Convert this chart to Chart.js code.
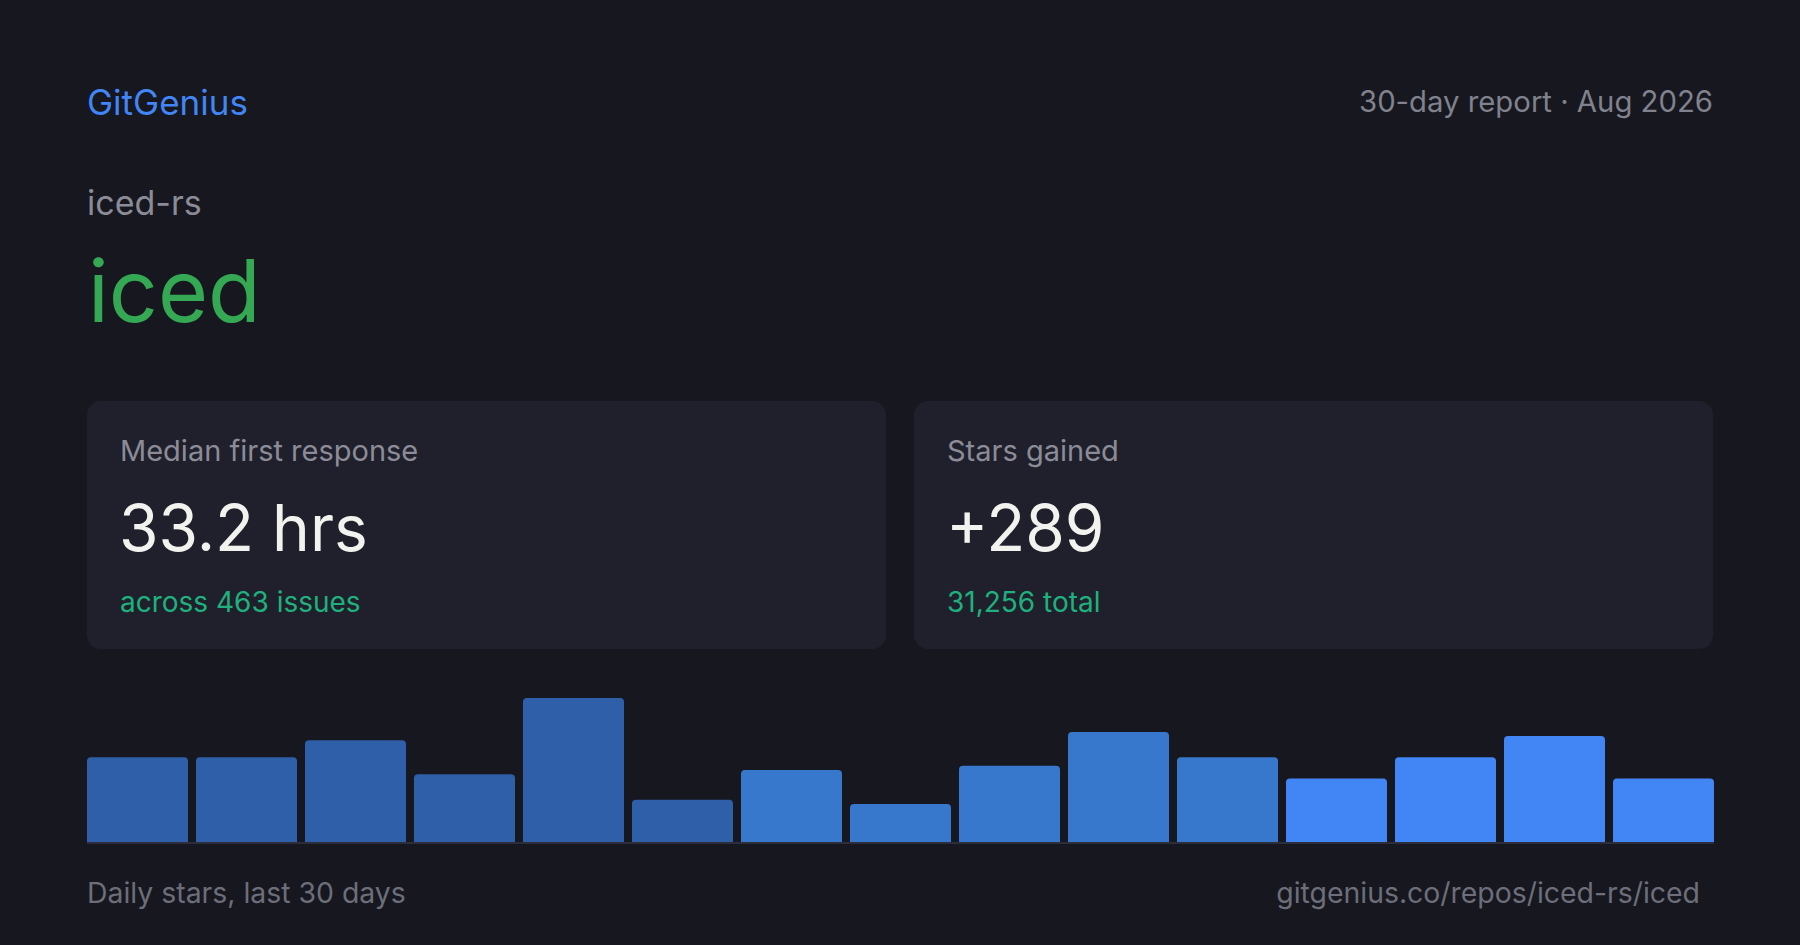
<!DOCTYPE html>
<html>
<head>
<meta charset="utf-8">
<script src="https://cdn.jsdelivr.net/npm/chart.js@4"></script>
<style>
  html, body { margin: 0; padding: 0; }
  body {
    width: 1800px; height: 945px; overflow: hidden; position: relative;
    background: #16171f; font-family: Inter, "Noto Sans", sans-serif;
  }
  .t { position: absolute; line-height: 1; white-space: nowrap; }
  .brand { left: 87px; top: 85px; font-size: 35px; color: #4285f4; }
  .period { right: 87px; top: 87px; font-size: 29.3px; color: #80828d; }
  .owner { left: 87px; top: 186px; font-size: 34px; color: #8b8c97; }
  .repo { left: 88px; top: 248px; font-size: 86px; color: #34a853; }
  .card {
    position: absolute; top: 401px; width: 799px; height: 248px;
    background: #1f202b; border-radius: 14px;
  }
  .card .label { left: 33px; top: 35px; font-size: 29px; color: #8b8c97; }
  .card .value { left: 32px; top: 95px; font-size: 64px; color: #f2f2ee; }
  .card .sub { left: 33px; top: 187px; font-size: 28px; color: #1fb07e; }
  #wrap { position: absolute; left: 83px; top: 698px; width: 1635px; height: 146px; }
  .foot { top: 879px; font-size: 28.4px; color: #6c6e7a; }
</style>
</head>
<body>
<div class="t brand">GitGenius</div>
<div class="t period">30-day report · Aug 2026</div>
<div class="t owner">iced-rs</div>
<div class="t repo">iced</div>

<div class="card" style="left:87px">
  <div class="t label">Median first response</div>
  <div class="t value">33.2 hrs</div>
  <div class="t sub">across 463 issues</div>
</div>
<div class="card" style="left:914px">
  <div class="t label">Stars gained</div>
  <div class="t value">+289</div>
  <div class="t sub">31,256 total</div>
</div>

<div id="wrap"><canvas id="bars"></canvas></div>

<div class="t foot" style="left:87px">Daily stars, last 30 days</div>
<div class="t foot" style="right:100px">gitgenius.co/repos/iced-rs/iced</div>

<script>
// two days per bar, 30 days total
const days = ["1–2", "3–4", "5–6", "7–8", "9–10", "11–12", "13–14", "15–16",
  "17–18", "19–20", "21–22", "23–24", "25–26", "27–28", "29–30"];
const stars = [20, 20, 24, 16, 34, 10, 17, 9, 18, 26, 20, 15, 20, 25, 15];

// older bars darker, recent ones brighter
function toneFor(i) {
  if (i < 6) return "#2f5fa9";
  if (i < 11) return "#3778cc";
  return "#4285f4";
}

// thin line under the bars, from first bar edge to last bar edge
const baseline = {
  id: "baseline",
  afterDatasetsDraw(chart) {
    const meta = chart.getDatasetMeta(0).data;
    const first = meta[0], last = meta[meta.length - 1];
    const ctx = chart.ctx;
    const y = chart.chartArea.bottom + 1;
    ctx.save();
    ctx.strokeStyle = "#2c2d3a";
    ctx.lineWidth = 2;
    ctx.beginPath();
    ctx.moveTo(first.x - first.width / 2, y);
    ctx.lineTo(last.x + last.width / 2, y);
    ctx.stroke();
    ctx.restore();
  },
};

let ctx = document.getElementById("bars").getContext("2d");
var starsChart = new Chart(ctx, {
  type: "bar",
  data: {
    labels: days,
    datasets: [
      {
        label: "Stars",
        data: stars,
        backgroundColor: stars.map((v, i) => toneFor(i)),
        borderRadius: 4,
        borderSkipped: "start",
        barPercentage: 0.927,
        categoryPercentage: 1,
      },
    ],
  },
  options: {
    responsive: true,
    maintainAspectRatio: false,
    animation: false,
    layout: { padding: { top: 0, bottom: 2, left: 0, right: 0 } },
    plugins: { legend: { display: false }, tooltip: { enabled: false } },
    scales: {
      x: { display: false },
      y: { display: false, min: 0, max: Math.max(...stars) },
    },
  },
  plugins: [baseline],
});
</script>
</body>
</html>
